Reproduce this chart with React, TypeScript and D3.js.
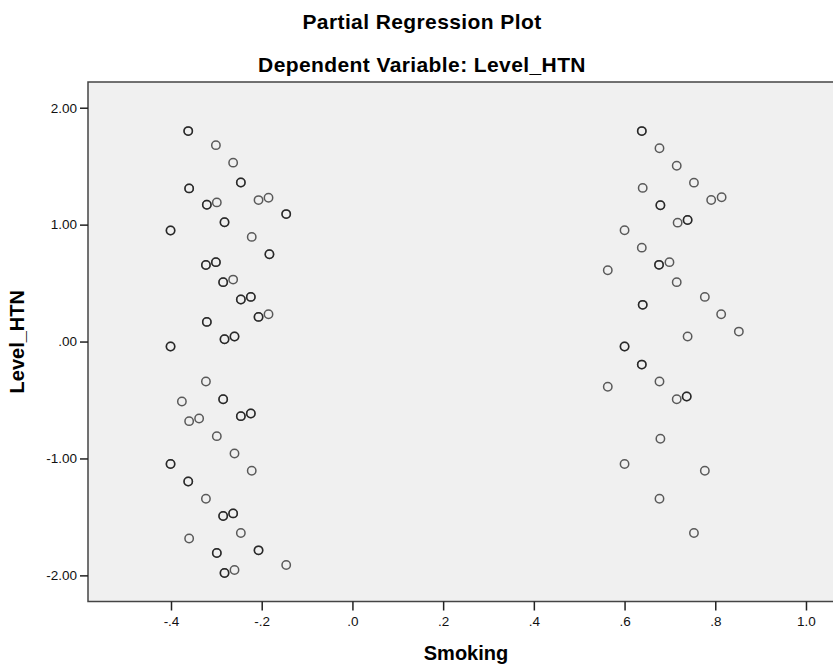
import React, { useRef, useEffect } from 'react';
import * as d3 from 'd3';

// partial residuals: [smoking, level_htn, number of cases at that spot]
const leftCluster: [number, number, number][] = [
    [-0.362, 1.80, 2], [-0.301, 1.68, 1], [-0.263, 1.53, 1], [-0.246, 1.36, 2],
    [-0.360, 1.31, 2], [-0.321, 1.17, 2], [-0.299, 1.19, 1], [-0.207, 1.21, 1],
    [-0.185, 1.23, 1], [-0.146, 1.09, 2], [-0.282, 1.02, 2], [-0.401, 0.95, 2],
    [-0.222, 0.895, 1], [-0.183, 0.747, 2], [-0.323, 0.655, 2], [-0.301, 0.679, 2],
    [-0.285, 0.508, 2], [-0.263, 0.53, 1], [-0.246, 0.36, 2], [-0.224, 0.382, 2],
    [-0.207, 0.211, 2], [-0.185, 0.234, 1], [-0.321, 0.168, 2], [-0.282, 0.02, 2],
    [-0.260, 0.043, 2], [-0.401, -0.043, 2], [-0.323, -0.342, 1], [-0.376, -0.513, 1],
    [-0.285, -0.493, 2], [-0.360, -0.681, 1], [-0.338, -0.658, 1], [-0.246, -0.638, 2],
    [-0.224, -0.615, 2], [-0.299, -0.809, 1], [-0.260, -0.957, 1], [-0.401, -1.048, 2],
    [-0.222, -1.105, 1], [-0.362, -1.197, 2], [-0.323, -1.344, 1], [-0.285, -1.492, 2],
    [-0.263, -1.47, 2], [-0.360, -1.684, 1], [-0.246, -1.638, 1], [-0.299, -1.809, 2],
    [-0.207, -1.786, 2], [-0.146, -1.911, 1], [-0.282, -1.98, 2], [-0.260, -1.954, 1],
];

const rightCluster: [number, number, number][] = [
    [0.638, 1.80, 2], [0.677, 1.653, 1], [0.715, 1.504, 1], [0.753, 1.359, 1],
    [0.640, 1.314, 1], [0.791, 1.211, 1], [0.814, 1.234, 1], [0.679, 1.166, 2],
    [0.717, 1.017, 1], [0.739, 1.04, 2], [0.600, 0.952, 1], [0.638, 0.803, 1],
    [0.676, 0.656, 2], [0.699, 0.679, 1], [0.563, 0.610, 1], [0.715, 0.508, 1],
    [0.777, 0.382, 1], [0.640, 0.314, 2], [0.813, 0.234, 1], [0.852, 0.085, 1],
    [0.739, 0.043, 1], [0.600, -0.043, 2], [0.638, -0.197, 2], [0.677, -0.342, 1],
    [0.563, -0.387, 1], [0.715, -0.493, 1], [0.737, -0.470, 2], [0.679, -0.832, 1],
    [0.600, -1.048, 1], [0.777, -1.105, 1], [0.677, -1.344, 1], [0.753, -1.638, 1],
];

const xTicks = [-0.4, -0.2, 0, 0.2, 0.4, 0.6, 0.8, 1.0];
const xTickLabels = ['-.4', '-.2', '.0', '.2', '.4', '.6', '.8', '1.0'];
const yTicks = [2, 1, 0, -1, -2];
const yTickLabels = ['2.00', '1.00', '.00', '-1.00', '-2.00'];

const PartialRegressionPlot = () => {
    const svgRef = useRef<SVGSVGElement>(null);

    useEffect(() => {
        document.body.style.margin = '0';
        const svg = d3.select(svgRef.current);
        svg.selectAll('*').remove();

        const width = 833;
        const height = 669;
        const font = '"Liberation Sans", Arial, sans-serif';
        const plot = { left: 88, top: 82, right: 840, bottom: 601.5 };

        const x = d3.scaleLinear()
            .domain([-0.583, 1.075])
            .range([plot.left, plot.right]);

        const y = d3.scaleLinear()
            .domain([-2.2235, 2.22])
            .range([plot.bottom, plot.top]);

        svg.append('rect')
            .attr('width', width)
            .attr('height', height)
            .attr('fill', 'white');

        // titles
        svg.append('text')
            .attr('x', 422)
            .attr('y', 29)
            .attr('text-anchor', 'middle')
            .attr('font-family', font)
            .attr('font-weight', 'bold')
            .attr('font-size', 21)
            .attr('letter-spacing', 0.4)
            .text('Partial Regression Plot');

        svg.append('text')
            .attr('x', 422)
            .attr('y', 71.5)
            .attr('text-anchor', 'middle')
            .attr('font-family', font)
            .attr('font-weight', 'bold')
            .attr('font-size', 21)
            .attr('letter-spacing', 0.4)
            .text('Dependent Variable: Level_HTN');

        // plot background and frame
        svg.append('rect')
            .attr('x', plot.left)
            .attr('y', plot.top)
            .attr('width', plot.right - plot.left)
            .attr('height', plot.bottom - plot.top)
            .attr('fill', '#f0f0f0')
            .attr('stroke', '#444')
            .attr('stroke-width', 1.5);

        // axes
        const xAxis = d3.axisBottom(x)
            .tickValues(xTicks)
            .tickSize(9)
            .tickSizeOuter(0)
            .tickFormat((d, i) => xTickLabels[i]);

        svg.append('g')
            .attr('transform', `translate(0,${plot.bottom})`)
            .call(xAxis)
            .call(g => g.select('.domain').remove())
            .call(g => g.selectAll('line').attr('stroke', '#222').attr('stroke-width', 1.5))
            .call(g => g.selectAll('text')
                .attr('font-family', font)
                .attr('font-size', 13.5)
                .attr('fill', '#111')
                .attr('dy', null)
                .attr('y', 24.5));

        const yAxis = d3.axisLeft(y)
            .tickValues(yTicks)
            .tickSize(8)
            .tickSizeOuter(0)
            .tickFormat((d, i) => yTickLabels[i]);

        svg.append('g')
            .attr('transform', `translate(${plot.left},0)`)
            .call(yAxis)
            .call(g => g.select('.domain').remove())
            .call(g => g.selectAll('line').attr('stroke', '#222').attr('stroke-width', 1.5))
            .call(g => g.selectAll('text')
                .attr('font-family', font)
                .attr('font-size', 13.5)
                .attr('fill', '#111')
                .attr('x', -11));

        // axis titles
        svg.append('text')
            .attr('x', 466)
            .attr('y', 660)
            .attr('text-anchor', 'middle')
            .attr('font-family', font)
            .attr('font-weight', 'bold')
            .attr('font-size', 20)
            .text('Smoking');

        svg.append('text')
            .attr('transform', `translate(24,${(plot.top + plot.bottom) / 2}) rotate(-90)`)
            .attr('text-anchor', 'middle')
            .attr('font-family', font)
            .attr('font-weight', 'bold')
            .attr('font-size', 20)
            .text('Level_HTN');

        // points, overlapping cases drawn once per case so they darken
        const expanded = leftCluster.concat(rightCluster)
            .flatMap(d => d3.range(d[2]).map(() => d));

        svg.append('g')
            .selectAll('circle')
            .data(expanded)
            .join('circle')
            .attr('cx', d => x(d[0]))
            .attr('cy', d => y(d[1]))
            .attr('r', 4.2)
            .attr('fill', 'none')
            .attr('stroke', '#111')
            .attr('stroke-opacity', 0.68)
            .attr('stroke-width', 1.5);
    }, []);

    return <svg ref={svgRef} width={833} height={669} style={{ display: 'block' }}></svg>;
};

export default function App() {
    return <PartialRegressionPlot />;
}
